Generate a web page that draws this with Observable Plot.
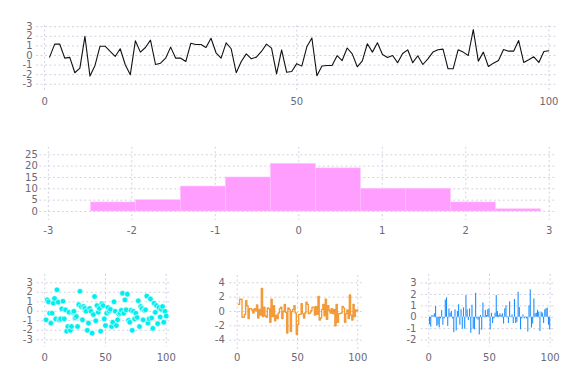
<!DOCTYPE html>
<html><head><meta charset="utf-8">
<script src="https://cdn.jsdelivr.net/npm/d3@7"></script>
<script src="https://cdn.jsdelivr.net/npm/@observablehq/plot@0.6"></script>
<style>
html,body{margin:0;padding:0;background:#fff;}
#wrap{position:relative;width:576px;height:384px;overflow:hidden;}
#wrap svg{position:absolute;overflow:visible;}
</style></head><body><div id="wrap"></div>
<script>
// Panel 1: line series (index 1..100)
const lineValues = [-0.17, 1.18, 1.2, -0.28, -0.2, -1.8, -1.32, 2.0, -2.15, -1.04,
 0.97, 0.97, 0.42, -0.1, 0.7, -0.97, -2.0, 1.53, 0.35, 0.83,
 1.6, -0.94, -0.8, -0.28, 0.87, -0.28, -0.28, -0.63, 1.28, 1.15,
 1.15, 0.83, 1.8, 0.28, -0.28, 1.32, 0.7, -1.8, -0.63, 0.17,
 -0.35, -0.17, 0.42, 1.18, 0.76, -1.92, 0.58, -1.75, -1.67, -0.85,
 -1.11, 0.9, 1.82, -2.1, -1.09, -1.04, -1.05, -0.02, -0.53, 0.78,
 0.17, -1.18, -0.56, 1.22, 0.35, 1.33, 0.1, -0.2, 0.0, -0.75,
 0.2, 0.59, -0.75, -0.03, -0.94, -0.35, 0.35, 0.59, 0.66, -1.39,
 -1.39, 0.59, 0.35, 0.0, 2.7, -0.59, 0.35, -1.15, -0.8, -0.52,
 0.62, 0.45, 0.45, 1.56, -0.73, -0.45, -0.14, -0.73, 0.42, 0.49];

// Panel 2: histogram bins
const histEdges = [-2.49, -1.951, -1.412, -0.873, -0.334, 0.205, 0.744, 1.283, 1.822, 2.361, 2.9];
const histCounts = [4, 5, 11, 15, 21, 19, 10, 10, 4, 1];

// Panel 3: scatter
const scatterValues = [-0.9, 1.2, 1.0, -0.2, -1.25, -0.2, 0.85, 1.35, -0.8, 2.26,
 0.96, -0.9, -0.8, 0.26, 1.06, -0.8, 0.15, -2.1, -1.6, -0.1,
 -2.0, -1.6, -0.1, 0.0, -0.7, -0.55, -1.6, 0.7, 2.1, 0.5,
 -0.9, 0.5, 0.3, 0.0, -2.0, -1.25, 0.3, 0.0, -2.3, -0.35,
 1.55, -1.0, 0.6, -0.1, 0.3, -2.1, 0.8, 0.6, -0.8, -1.5,
 -0.2, 0.4, 0.0, 0.2, -1.6, -1.15, 1.0, 0.0, -1.5, -0.9,
 -0.3, -0.2, 0.1, 1.9, -0.2, 1.2, 0.15, 1.8, -0.95, -1.15,
 0.1, -2.0, 0.0, -0.8, -0.2, -0.65, 1.1, -1.6, 0.5, 0.3,
 -0.9, 0.1, 0.15, 1.6, -1.25, -0.8, 1.3, -0.7, -1.8, 0.85,
 -0.1, 0.6, -1.3, 0.4, -0.6, 0.2, 0.5, -1.15, 0.0, -0.5];

// Panel 4: steps
const stepValues = [1.0, 1.7, 1.7, -0.8, -0.8, -0.4, 1.5, 0.8, -1.0, 0.4,
 0.4, 0.2, -0.2, 0.4, 0.1, 0.9, -0.9, 0.3, -0.5, 3.2,
 -0.7, 0.6, -0.6, -0.8, 0.5, 0.4, -1.5, 1.7, -0.7, 0.8,
 -1.3, -0.5, -1.0, -0.2, 0.4, 0.6, -1.0, 0.0, 1.0, -0.1,
 -3.0, 0.5, 0.3, -2.8, 0.0, 0.3, 0.8, -0.2, -3.2, -1.8,
 -0.4, -0.4, 1.1, -0.3, -0.9, -0.2, 1.3, 1.0, -0.3, -0.2,
 0.1, 0.6, 0.6, -0.5, 0.7, -0.4, 2.1, -1.2, -0.9, 0.3,
 1.0, -0.6, 1.7, -1.1, 0.8, 0.2, -0.2, 0.4, -0.3, 0.3,
 -2.0, 1.0, -1.5, -0.3, -0.3, -0.2, 0.7, 0.5, -1.5, -0.3,
 0.2, -1.0, 2.3, -0.5, -1.2, 1.0, -0.7, 0.2, 0.1, 0.2];

// Panel 5: bars
const barValues = [-0.65, -0.88, 0.15, 0.1, 0.3, 0.94, -0.8, -0.7, -0.93, -0.15,
 0.58, -0.7, -0.15, 1.5, 1.7, -0.8, 0.73, 0.35, 0.5, -0.15,
 -1.35, 0.65, -1.2, 0.5, 1.1, -0.7, 0.65, -1.05, 0.82, -1.05,
 1.9, 0.65, -0.3, 0.73, -1.4, 1.05, -1.05, -1.1, 2.1, -0.15,
 -0.25, -1.55, 0.15, -1.15, 1.25, 0.05, 0.6, 0.15, 0.65, 0.75,
 -1.1, 0.35, -0.55, -0.15, 0.35, 1.9, 0.5, 0.15, 0.3, 0.15,
 0.3, -0.6, 0.73, 1.0, 0.05, -0.55, 1.35, 0.05, 0.2, -0.55,
 1.55, -0.55, -0.45, 2.2, 0.85, -1.1, -0.15, 0.2, -0.15, 0.05,
 -0.15, -1.3, 1.0, 2.4, -0.95, -0.6, 1.6, 0.3, 0.35, 0.6,
 0.45, -1.25, 0.45, 0.35, -0.55, 0.65, 0.75, 0.8, -0.7, -1.1];

const indexTicks = [0, 50, 100];

const GRID = "#d4d1e2";
const DASH = "2,2.5";
const TEXT = "#6b6877";
const FONT = "'DejaVu Sans', sans-serif";
const wrap = document.getElementById("wrap");

const toRows = arr => arr.map((v, k) => ({i: k + 1, v}));
const fmt = d => String(d);

function panel({left, top, width, height, mL, mR, mT, mB, xDomain, yDomain, xTicks, yTicks, xPad, yPad, marks}) {
  const svg = Plot.plot({
    width, height,
    marginLeft: mL, marginRight: mR, marginTop: mT, marginBottom: mB,
    style: {fontFamily: FONT, fontSize: "10px", color: TEXT, background: "transparent"},
    x: {domain: xDomain, label: null},
    y: {domain: yDomain, label: null},
    marks: [
      Plot.gridX(xTicks, {stroke: GRID, strokeOpacity: 1, strokeDasharray: DASH}),
      Plot.gridY(yTicks, {stroke: GRID, strokeOpacity: 1, strokeDasharray: DASH}),
      ...marks,
      Plot.axisX(xTicks, {tickSize: 0, tickPadding: xPad, tickFormat: fmt, fill: TEXT}),
      Plot.axisY(yTicks, {tickSize: 0, tickPadding: yPad, tickFormat: fmt, fill: TEXT})
    ]
  });
  svg.style.left = left + "px";
  svg.style.top = top + "px";
  wrap.appendChild(svg);
}

// Panel 1: line
panel({left: 0, top: 0, width: 576, height: 110, mL: 36, mR: 19, mT: 25, mB: 20,
  xDomain: [-1.6, 101.7], yDomain: [-3.65, 3.125],
  xTicks: indexTicks, yTicks: [-3, -2, -1, 0, 1, 2, 3], xPad: 7, yPad: 4,
  marks: [Plot.line(toRows(lineValues), {x: "i", y: "v", stroke: "#111", strokeWidth: 1.1})]
});

// Panel 2: histogram
const bins = histCounts.map((c, k) => ({x1: histEdges[k], x2: histEdges[k + 1], c}));
panel({left: 0, top: 130, width: 576, height: 110, mL: 39.3, mR: 19.3, mT: 16.7, mB: 20,
  xDomain: [-3.102, 3.095], yDomain: [-3.96, 28.33],
  xTicks: [-3, -2, -1, 0, 1, 2, 3], yTicks: [0, 5, 10, 15, 20, 25], xPad: 6, yPad: 2,
  marks: [Plot.rectY(bins, {x1: "x1", x2: "x2", y1: 0, y2: "c", fill: "#ff9eff", stroke: "#ffc4ff", strokeWidth: 0.5})]
});

// Panel 3: scatter
panel({left: 0, top: 260, width: 190, height: 110, mL: 36.7, mR: 18.3, mT: 14, mB: 23.3,
  xDomain: [-6.26, 104.94], yDomain: [-3.78, 3.87],
  xTicks: indexTicks, yTicks: [-3, -2, -1, 0, 1, 2, 3], xPad: 7, yPad: 4.4,
  marks: [Plot.dot(toRows(scatterValues), {x: "i", y: "v", r: 2.8, fill: "#00eeee", stroke: "#fff", strokeWidth: 0.6})]
});

// Panel 4: steps
panel({left: 190, top: 260, width: 190, height: 110, mL: 39.3, mR: 16.7, mT: 15, mB: 20.7,
  xDomain: [-6.14, 104.98], yDomain: [-5.34, 5.02],
  xTicks: indexTicks, yTicks: [-4, -2, 0, 2, 4], xPad: 4.5, yPad: 5,
  marks: [Plot.line(toRows(stepValues), {x: "i", y: "v", curve: "step-after", stroke: "#ef8a17", strokeWidth: 1.4, strokeOpacity: 0.85})]
});

// Panel 5: bars
panel({left: 380, top: 260, width: 196, height: 110, mL: 40.7, mR: 21, mT: 14, mB: 23.3,
  xDomain: [-6.26, 104.4], yDomain: [-2.63, 3.75],
  xTicks: indexTicks, yTicks: [-2, -1, 0, 1, 2, 3], xPad: 6.4, yPad: 4.7,
  marks: [Plot.rectY(toRows(barValues), {x1: d => d.i - 0.45, x2: d => d.i + 0.45, y1: 0, y2: "v", fill: "#1e8fff"})]
});
</script></body></html>
